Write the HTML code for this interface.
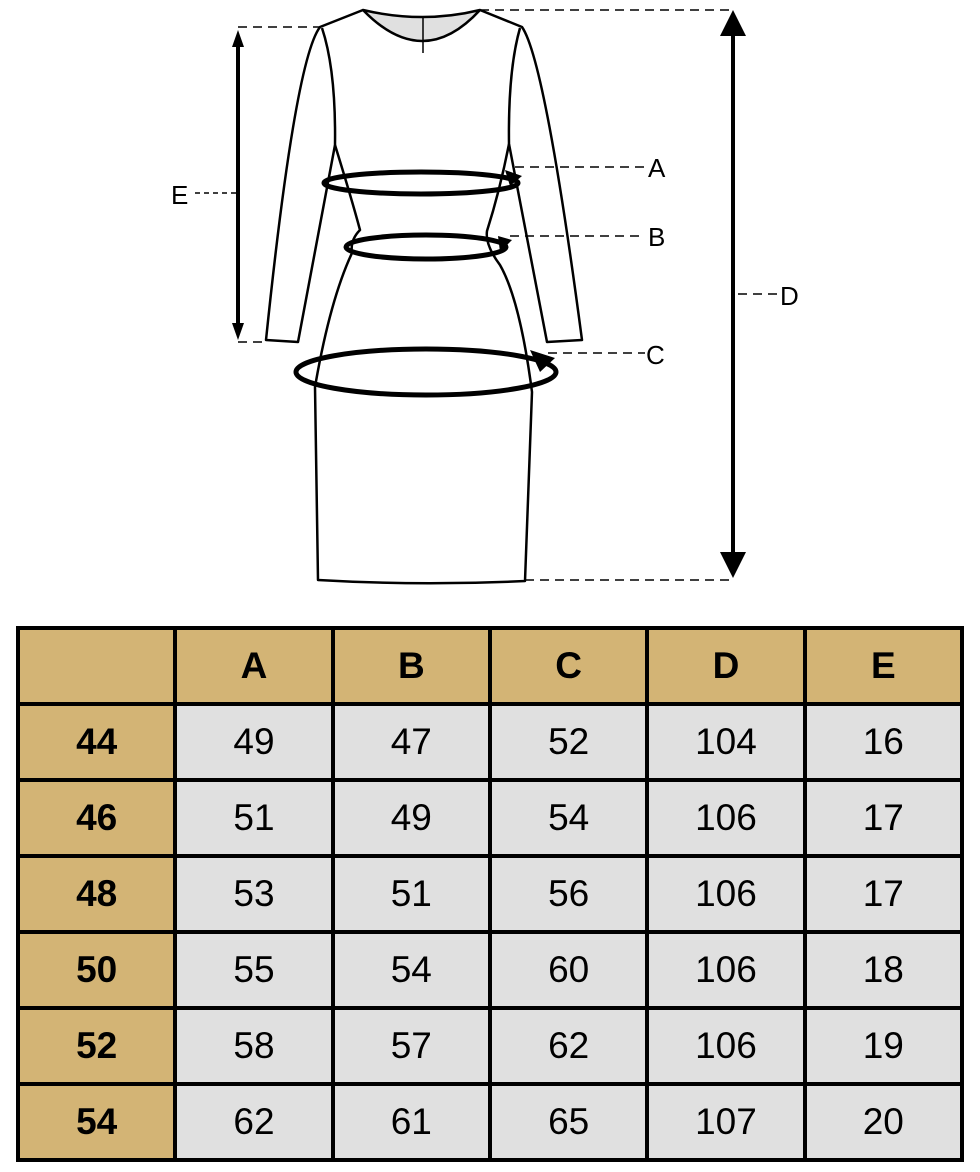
<!DOCTYPE html>
<html><head><meta charset="utf-8"><style>
html,body{margin:0;padding:0;background:#fff;width:980px;height:1172px;overflow:hidden;font-family:"Liberation Sans",sans-serif}
svg{position:absolute;left:0;top:0}
table{position:absolute;left:16px;top:626px;border-collapse:collapse;table-layout:fixed;width:948px}
td{border:4px solid #000;text-align:center;font-size:37px;background:#e0e0e0;padding:0;height:72px}
tr:first-child td{background:#d3b475;font-weight:bold}
td:first-child{background:#d3b475;font-weight:bold}
</style></head><body>
<svg width="980" height="600" viewBox="0 0 980 600">
<g fill="none" stroke="#000" stroke-width="2.5" stroke-linejoin="round">
<path d="M363,10 Q423,72 480,10 Q423,24 363,10 Z" fill="#e0e0e0"/>
<line x1="423" y1="16" x2="423" y2="53" stroke-width="1.5"/>
<path d="M363,10 L320,27 Q295,60 266,340 L298,342 L335,145 Q336,70 322,28"/>
<path d="M480,10 L522,27 Q545,60 582,340 L547,342 L509,144 Q508,70 520,28"/>
<path d="M335,145 Q352,200 360,230 Q350,240 352,253 Q330,300 315,387 L318,580 Q420,586 525,581 L532,392 Q520,300 500,265 Q485,245 487,231 Q500,190 509,144"/>
</g>
<g fill="none" stroke="#000" stroke-width="5">
<ellipse cx="421" cy="183" rx="97" ry="11"/>
<ellipse cx="426" cy="247" rx="80" ry="12"/>
<ellipse cx="426" cy="372" rx="130" ry="23"/>
</g>
<g fill="#000">
<path d="M505,170 L522,176 L510,186 Z"/>
<path d="M498,236 L512,240 L500,252 Z"/>
<path d="M530,350 L555,358 L540,372 Z"/>
</g>
<g stroke="#000" stroke-width="1.5" stroke-dasharray="9,6" fill="none">
<line x1="238" y1="27" x2="320" y2="27"/>
<line x1="238" y1="342" x2="266" y2="342"/>
<line x1="195" y1="193" x2="236" y2="193" stroke-dasharray="5,4"/>
<line x1="480" y1="10" x2="733" y2="10"/>
<line x1="525" y1="580" x2="733" y2="580"/>
<line x1="738" y1="294" x2="780" y2="294"/>
<line x1="515" y1="167" x2="645" y2="167"/>
<line x1="510" y1="236" x2="645" y2="236"/>
<line x1="548" y1="353" x2="645" y2="353"/>
</g>
<g stroke="#000" stroke-width="4"><line x1="238" y1="42" x2="238" y2="328"/><line x1="733" y1="26" x2="733" y2="562"/></g>
<g fill="#000">
<path d="M238,30 L232,47 L244,47 Z"/><path d="M238,340 L232,323 L244,323 Z"/>
<path d="M733,10 L720,36 L746,36 Z"/><path d="M733,578 L720,552 L746,552 Z"/>
</g>
<g font-size="26" fill="#000" font-family="Liberation Sans,sans-serif">
<text x="171" y="204">E</text><text x="648" y="177">A</text><text x="648" y="246">B</text>
<text x="646" y="364">C</text><text x="780" y="305">D</text>
</g>
</svg>
<table>
<tr><td></td><td>A</td><td>B</td><td>C</td><td>D</td><td>E</td></tr>
<tr><td>44</td><td>49</td><td>47</td><td>52</td><td>104</td><td>16</td></tr>
<tr><td>46</td><td>51</td><td>49</td><td>54</td><td>106</td><td>17</td></tr>
<tr><td>48</td><td>53</td><td>51</td><td>56</td><td>106</td><td>17</td></tr>
<tr><td>50</td><td>55</td><td>54</td><td>60</td><td>106</td><td>18</td></tr>
<tr><td>52</td><td>58</td><td>57</td><td>62</td><td>106</td><td>19</td></tr>
<tr><td>54</td><td>62</td><td>61</td><td>65</td><td>107</td><td>20</td></tr>
</table>
</body></html>
